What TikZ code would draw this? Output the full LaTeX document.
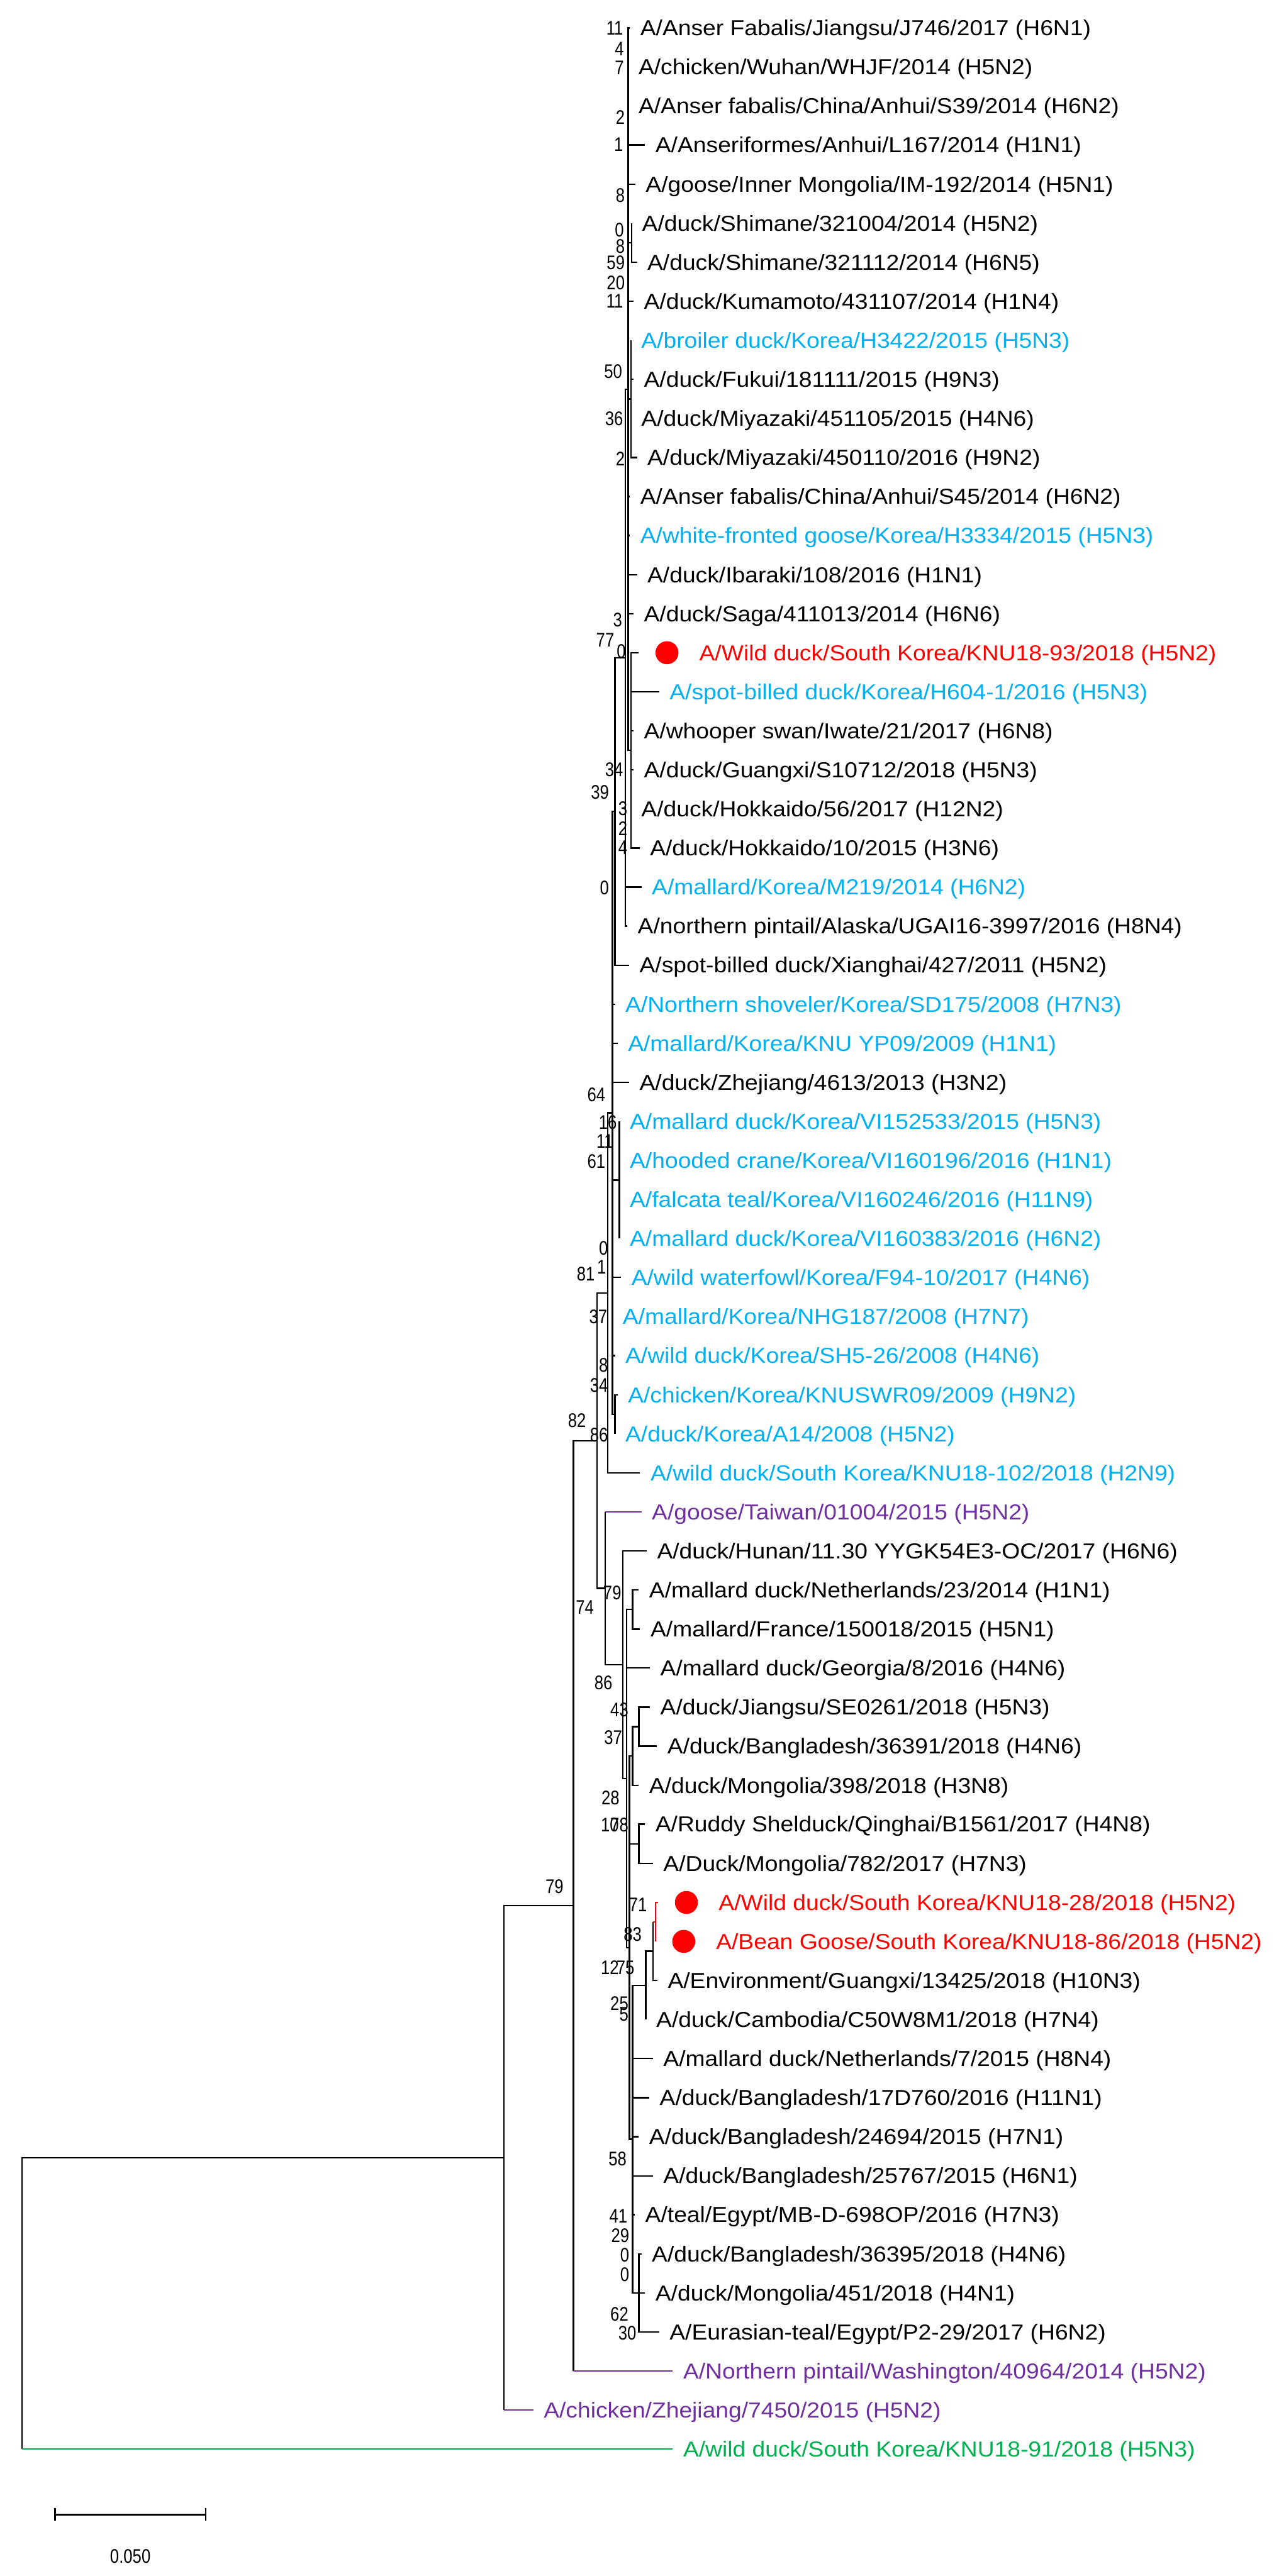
\documentclass[tikz,border=0pt]{standalone}
\usepackage{fontspec}
\setmainfont{Liberation Sans}
\newfontfamily\leaffont[FakeStretch=1.08]{Liberation Sans}
\newfontfamily\bootfont[FakeStretch=0.82]{Liberation Sans}
\usepackage{xcolor}
\usepackage{tikz}
\usetikzlibrary{positioning,arrows.meta,calc}
\definecolor{korblue}{HTML}{00B0F0}
\definecolor{h5purple}{HTML}{7030A0}
\definecolor{outgreen}{HTML}{00B050}

\begin{document}
\begin{tikzpicture}[
    x=1pt, y=-1pt,
    line width=0.9pt,
    leaf/.style={anchor=west, inner xsep=5.9pt, inner ysep=0pt, text height=9.4pt, text depth=0pt, font=\leaffont\fontsize{13.2}{15}\selectfont},
    kor/.style={leaf, text=korblue},
    boot/.style={anchor=east, inner sep=0pt, text height=8.6pt, text depth=0pt, font=\bootfont\fontsize{12}{12}\selectfont},
    reddot/.style={circle, fill=red, minimum size=14pt, inner sep=0pt}
]
\useasboundingbox (0,0) rectangle (778,1568);

% internal nodes
\coordinate (root) at (13.3,1402.1);
\coordinate (n79) at (306.6,1313.5);
\coordinate (nA) at (348.9,1160.0);
\coordinate (n82) at (363.4,876.9);
\coordinate (nB) at (369.9,787.0);
\coordinate (nC) at (372.6,677.4);
\coordinate (n39) at (374.2,493.9);
\coordinate (n77) at (380.4,400.3);
\coordinate (nTop) at (382.2,236.9);
\coordinate (nShim) at (384.4,147.8);
\coordinate (nKor9) at (383.9,242.9);
\coordinate (nRed) at (383.9,456.8);
\coordinate (nVI) at (376.9,718.3);
\coordinate (nKor36) at (374.2,860.9);
\coordinate (n74) at (368.3,966.8);
\coordinate (nGroup) at (379.0,1013.3);
\coordinate (nMid) at (381.2,1082.6);
\coordinate (nMallard) at (384.9,979.7);
\coordinate (nLow) at (383.0,1185.5);
\coordinate (nJ) at (384.9,1068.9);
\coordinate (nJB) at (388.7,1051.0);
\coordinate (nRS) at (388.7,1122.3);
\coordinate (nK) at (384.9,1302.1);
\coordinate (nCam) at (393.0,1208.5);
\coordinate (nEnv) at (397.3,1187.7);
\coordinate (nRed2) at (398.9,1169.9);
\coordinate (nEg) at (388.7,1395.7);

% leaves
\node[leaf] (l1) at (383.3,17.0) {A/Anser Fabalis/Jiangsu/J746/2017 (H6N1)};
\node[leaf] (l2) at (382.2,40.8) {A/chicken/Wuhan/WHJF/2014 (H5N2)};
\node[leaf] (l3) at (382.2,64.5) {A/Anser fabalis/China/Anhui/S39/2014 (H6N2)};
\node[leaf] (l4) at (392.5,88.3) {A/Anseriformes/Anhui/L167/2014 (H1N1)};
\node[leaf] (l5) at (386.6,112.1) {A/goose/Inner Mongolia/IM-192/2014 (H5N1)};
\node[leaf] (l6) at (384.4,135.9) {A/duck/Shimane/321004/2014 (H5N2)};
\node[leaf] (l7) at (387.6,159.6) {A/duck/Shimane/321112/2014 (H6N5)};
\node[leaf] (l8) at (385.5,183.4) {A/duck/Kumamoto/431107/2014 (H1N4)};
\node[kor] (l9) at (383.9,207.2) {A/broiler duck/Korea/H3422/2015 (H5N3)};
\node[leaf] (l10) at (385.5,230.9) {A/duck/Fukui/181111/2015 (H9N3)};
\node[leaf] (l11) at (383.9,254.7) {A/duck/Miyazaki/451105/2015 (H4N6)};
\node[leaf] (l12) at (387.6,278.5) {A/duck/Miyazaki/450110/2016 (H9N2)};
\node[leaf] (l13) at (383.3,302.2) {A/Anser fabalis/China/Anhui/S45/2014 (H6N2)};
\node[kor] (l14) at (383.3,326.0) {A/white-fronted goose/Korea/H3334/2015 (H5N3)};
\node[leaf] (l15) at (387.6,349.8) {A/duck/Ibaraki/108/2016 (H1N1)};
\node[leaf] (l16) at (385.5,373.6) {A/duck/Saga/411013/2014 (H6N6)};
\coordinate (t17) at (388.7,397.3);
\node[reddot, right=9.7pt of t17] (d17) {};
\node[leaf, text=red, right=5.9pt of d17] (l17) {A/Wild duck/South Korea/KNU18-93/2018 (H5N2)};
\node[kor] (l18) at (401.1,421.1) {A/spot-billed duck/Korea/H604-1/2016 (H5N3)};
\node[leaf] (l19) at (385.5,444.9) {A/whooper swan/Iwate/21/2017 (H6N8)};
\node[leaf] (l20) at (385.5,468.6) {A/duck/Guangxi/S10712/2018 (H5N3)};
\node[leaf] (l21) at (383.9,492.4) {A/duck/Hokkaido/56/2017 (H12N2)};
\node[leaf] (l22) at (389.2,516.2) {A/duck/Hokkaido/10/2015 (H3N6)};
\node[kor] (l23) at (390.3,539.9) {A/mallard/Korea/M219/2014 (H6N2)};
\node[leaf] (l24) at (381.7,563.7) {A/northern pintail/Alaska/UGAI16-3997/2016 (H8N4)};
\node[leaf] (l25) at (382.8,587.5) {A/spot-billed duck/Xianghai/427/2011 (H5N2)};
\node[kor] (l26) at (374.2,611.3) {A/Northern shoveler/Korea/SD175/2008 (H7N3)};
\node[kor] (l27) at (375.8,635.0) {A/mallard/Korea/KNU YP09/2009 (H1N1)};
\node[leaf] (l28) at (382.8,658.8) {A/duck/Zhejiang/4613/2013 (H3N2)};
\node[kor] (l29) at (376.9,682.6) {A/mallard duck/Korea/VI152533/2015 (H5N3)};
\node[kor] (l30) at (376.9,706.3) {A/hooded crane/Korea/VI160196/2016 (H1N1)};
\node[kor] (l31) at (376.9,730.1) {A/falcata teal/Korea/VI160246/2016 (H11N9)};
\node[kor] (l32) at (376.9,753.9) {A/mallard duck/Korea/VI160383/2016 (H6N2)};
\node[kor] (l33) at (377.9,777.6) {A/wild waterfowl/Korea/F94-10/2017 (H4N6)};
\node[kor] (l34) at (372.6,801.4) {A/mallard/Korea/NHG187/2008 (H7N7)};
\node[kor] (l35) at (374.2,825.2) {A/wild duck/Korea/SH5-26/2008 (H4N6)};
\node[kor] (l36) at (375.8,849.0) {A/chicken/Korea/KNUSWR09/2009 (H9N2)};
\node[kor] (l37) at (374.2,872.7) {A/duck/Korea/A14/2008 (H5N2)};
\node[kor] (l38) at (389.5,896.5) {A/wild duck/South Korea/KNU18-102/2018 (H2N9)};
\node[leaf, text=h5purple] (l39) at (390.3,920.3) {A/goose/Taiwan/01004/2015 (H5N2)};
\node[leaf] (l40) at (393.5,944.0) {A/duck/Hunan/11.30 YYGK54E3-OC/2017 (H6N6)};
\node[leaf] (l41) at (388.7,967.8) {A/mallard duck/Netherlands/23/2014 (H1N1)};
\node[leaf] (l42) at (389.5,991.6) {A/mallard/France/150018/2015 (H5N1)};
\node[leaf] (l43) at (395.5,1015.3) {A/mallard duck/Georgia/8/2016 (H4N6)};
\node[leaf] (l44) at (395.5,1039.1) {A/duck/Jiangsu/SE0261/2018 (H5N3)};
\node[leaf] (l45) at (399.8,1062.9) {A/duck/Bangladesh/36391/2018 (H4N6)};
\node[leaf] (l46) at (388.7,1086.7) {A/duck/Mongolia/398/2018 (H3N8)};
\node[leaf] (l47) at (392.5,1110.4) {A/Ruddy Shelduck/Qinghai/B1561/2017 (H4N8)};
\node[leaf] (l48) at (397.3,1134.2) {A/Duck/Mongolia/782/2017 (H7N3)};
\coordinate (t49) at (400.5,1158.0);
\node[reddot, right=9.7pt of t49] (d49) {};
\node[leaf, text=red, right=5.9pt of d49] (l49) {A/Wild duck/South Korea/KNU18-28/2018 (H5N2)};
\coordinate (t50) at (398.9,1181.7);
\node[reddot, right=9.7pt of t50] (d50) {};
\node[leaf, text=red, right=5.9pt of d50] (l50) {A/Bean Goose/South Korea/KNU18-86/2018 (H5N2)};
\node[leaf] (l51) at (400.0,1205.5) {A/Environment/Guangxi/13425/2018 (H10N3)};
\node[leaf] (l52) at (393.0,1229.3) {A/duck/Cambodia/C50W8M1/2018 (H7N4)};
\node[leaf] (l53) at (397.3,1253.0) {A/mallard duck/Netherlands/7/2015 (H8N4)};
\node[leaf] (l54) at (395.1,1276.8) {A/duck/Bangladesh/17D760/2016 (H11N1)};
\node[leaf] (l55) at (388.7,1300.6) {A/duck/Bangladesh/24694/2015 (H7N1)};
\node[leaf] (l56) at (397.3,1324.4) {A/duck/Bangladesh/25767/2015 (H6N1)};
\node[leaf] (l57) at (386.3,1348.1) {A/teal/Egypt/MB-D-698OP/2016 (H7N3)};
\node[leaf] (l58) at (390.3,1371.9) {A/duck/Bangladesh/36395/2018 (H4N6)};
\node[leaf] (l59) at (392.5,1395.7) {A/duck/Mongolia/451/2018 (H4N1)};
\node[leaf] (l60) at (401.1,1419.4) {A/Eurasian-teal/Egypt/P2-29/2017 (H6N2)};
\node[leaf, text=h5purple] (l61) at (409.4,1443.2) {A/Northern pintail/Washington/40964/2014 (H5N2)};
\node[leaf, text=h5purple] (l62) at (324.5,1467.0) {A/chicken/Zhejiang/7450/2015 (H5N2)};
\node[leaf, text=outgreen] (l63) at (409.4,1490.7) {A/wild duck/South Korea/KNU18-91/2018 (H5N3)};

% branches
\draw (nShim) |- (l6.west) (nShim) |- (l7.west);
\draw (nKor9) |- (l9.west) (nKor9) |- (l10.west) (nKor9) |- (l11.west) (nKor9) |- (l12.west);
\draw (nRed) |- (t17) (nRed) |- (l18.west) (nRed) |- (l19.west) (nRed) |- (l20.west) (nRed) |- (l21.west) (nRed) |- (l22.west);
\draw (nTop) |- (l1.west) (nTop) |- (l2.west) (nTop) |- (l3.west) (nTop) |- (l4.west) (nTop) |- (l5.west) (nTop) |- (nShim) (nTop) |- (l8.west) (nTop) |- (nKor9);
\draw (nTop) |- (l13.west) (nTop) |- (l14.west) (nTop) |- (l15.west) (nTop) |- (l16.west) (nTop) |- (nRed);
\draw (n77) |- (nTop) (n77) |- (l23.west) (n77) |- (l24.west);
\draw (n39) |- (n77) (n39) |- (l25.west);
\draw (nVI) |- (l29.west) (nVI) |- (l30.west) (nVI) |- (l31.west) (nVI) |- (l32.west);
\draw (nKor36) |- (l36.west) (nKor36) |- (l37.west);
\draw (nC) |- (n39) (nC) |- (l26.west) (nC) |- (l27.west) (nC) |- (l28.west) (nC) |- (nVI);
\draw (nC) |- (l33.west) (nC) |- (l34.west) (nC) |- (l35.west) (nC) |- (nKor36);
\draw (nB) |- (nC) (nB) |- (l38.west);
\draw (nMallard) |- (l41.west) (nMallard) |- (l42.west);
\draw (nJB) |- (l44.west) (nJB) |- (l45.west);
\draw (nJ) |- (nJB) (nJ) |- (l46.west);
\draw (nRS) |- (l47.west) (nRS) |- (l48.west);
\draw[red] (nRed2) |- (t49) (nRed2) |- (t50);
\draw (nEnv) -- (nEnv |- nRed2) (nEnv) |- (l51.west);
\draw[red] (nEnv |- nRed2) -- (nRed2);
\draw (nCam) |- (nEnv) (nCam) |- (l52.west);
\draw (nEg) |- (l58.west) (nEg) |- (l59.west) (nEg) |- (l60.west);
\draw (nK) |- (nCam) (nK) |- (l53.west) (nK) |- (l54.west) (nK) |- (l55.west) (nK) |- (l56.west) (nK) |- (l57.west) (nK) |- (nEg);
\draw (nLow) |- (nJ) (nLow) |- (nRS) (nLow) |- (nK);
\draw (nMid) |- (nMallard) (nMid) |- (l43.west) (nMid) |- (nLow);
\draw (nGroup) |- (l40.west) (nGroup) |- (nMid);
\draw (n74) -- (n74 |- l39.west) (n74) |- (nGroup);
\draw[h5purple] (n74 |- l39.west) -- (l39.west);
\draw (n82) |- (nB) (n82) |- (n74);
\draw (nA) |- (n82) (nA) -- (nA |- l61.west);
\draw[h5purple] (nA |- l61.west) -- (l61.west);
\draw (n79) |- (nA) (n79) -- (n79 |- l62.west);
\draw[h5purple] (n79 |- l62.west) -- (l62.west);
\draw (root) |- (n79) (root) -- (root |- l63.west);
\draw[outgreen] (root |- l63.west) -- (l63.west);

% bootstrap values
\node[boot] (b1) at (379.6,17.0) {11};
\node[boot] (b2) at (380.1,29.5) {4};
\node[boot] (b3) at (380.1,41.0) {7};
\node[boot] (b4) at (380.6,71.3) {2};
\node[boot] (b5) at (379.6,87.8) {1};
\node[boot] (b6) at (380.6,118.8) {8};
\node[boot] (b7) at (380.1,139.7) {0};
\node[boot] (b8) at (380.6,149.8) {8};
\node[boot] (b9) at (380.6,159.8) {59};
\node[boot] (b10) at (380.6,172.1) {20};
\node[boot] (b11) at (379.6,182.9) {11};
\node[boot] (b12) at (379.0,226.0) {50};
\node[boot] (b13) at (379.6,254.6) {36};
\node[boot] (b14) at (380.6,279.1) {2};
\node[boot] (b15) at (379.0,377.0) {3};
\node[boot] (b16) at (374.2,389.3) {77};
\node[boot] (b17) at (381.2,396.4) {0};
\node[boot] (b18) at (379.6,468.2) {34};
\node[boot] (b19) at (371.0,481.9) {39};
\node[boot] (b20) at (382.2,492.0) {3};
\node[boot] (b21) at (382.2,504.2) {2};
\node[boot] (b22) at (382.2,515.7) {4};
\node[boot] (b23) at (371.0,540.2) {0};
\node[boot] (b24) at (368.8,666.2) {64};
\node[boot] (b25) at (375.8,683.2) {16};
\node[boot] (b26) at (373.6,694.7) {11};
\node[boot] (b27) at (368.8,706.9) {61};
\node[boot] (b28) at (370.4,759.5) {0};
\node[boot] (b29) at (369.3,771.0) {1};
\node[boot] (b30) at (362.4,775.3) {81};
\node[boot] (b31) at (369.9,801.3) {37};
\node[boot] (b32) at (370.4,830.8) {8};
\node[boot] (b33) at (370.4,843.0) {34};
\node[boot] (b34) at (357.0,864.6) {82};
\node[boot] (b35) at (370.4,873.3) {86};
\node[boot] (b36) at (378.5,969.5) {79};
\node[boot] (b37) at (361.8,978.1) {74};
\node[boot] (b38) at (373.1,1024.2) {86};
\node[boot] (b39) at (382.8,1040.7) {43};
\node[boot] (b40) at (379.0,1057.3) {37};
\node[boot] (b41) at (377.4,1094.0) {28};
\node[boot] (b42) at (377.0,1110.5) {10};
\node[boot] (b43) at (382.8,1110.5) {78};
\node[boot] (b44) at (394.1,1159.3) {71};
\node[boot] (b45) at (390.9,1177.3) {83};
\node[boot] (b46) at (377.0,1197.4) {12};
\node[boot] (b47) at (386.5,1197.4) {75};
\node[boot] (b48) at (382.8,1219.5) {25};
\node[boot] (b49) at (382.8,1226.0) {5};
\node[boot] (b50) at (381.7,1314.0) {58};
\node[boot] (b51) at (382.2,1348.7) {41};
\node[boot] (b52) at (383.3,1360.7) {29};
\node[boot] (b53) at (383.3,1372.4) {0};
\node[boot] (b54) at (383.3,1384.2) {0};
\node[boot] (b55) at (382.8,1408.4) {62};
\node[boot] (b56) at (387.6,1420.1) {30};
\node[boot] (b57) at (343.3,1148.0) {79};

% scale bar
\coordinate (sbL) at (33.0,1530.6);
\coordinate (sbR) at (125.6,1530.6);
\draw[{Bar[width=7.6pt]}-{Bar[width=7.6pt]}] (sbL) -- (sbR);
\node[boot, anchor=center] (sblabel) at (79.3,1555.8) {0.050};

\end{tikzpicture}
\end{document}
